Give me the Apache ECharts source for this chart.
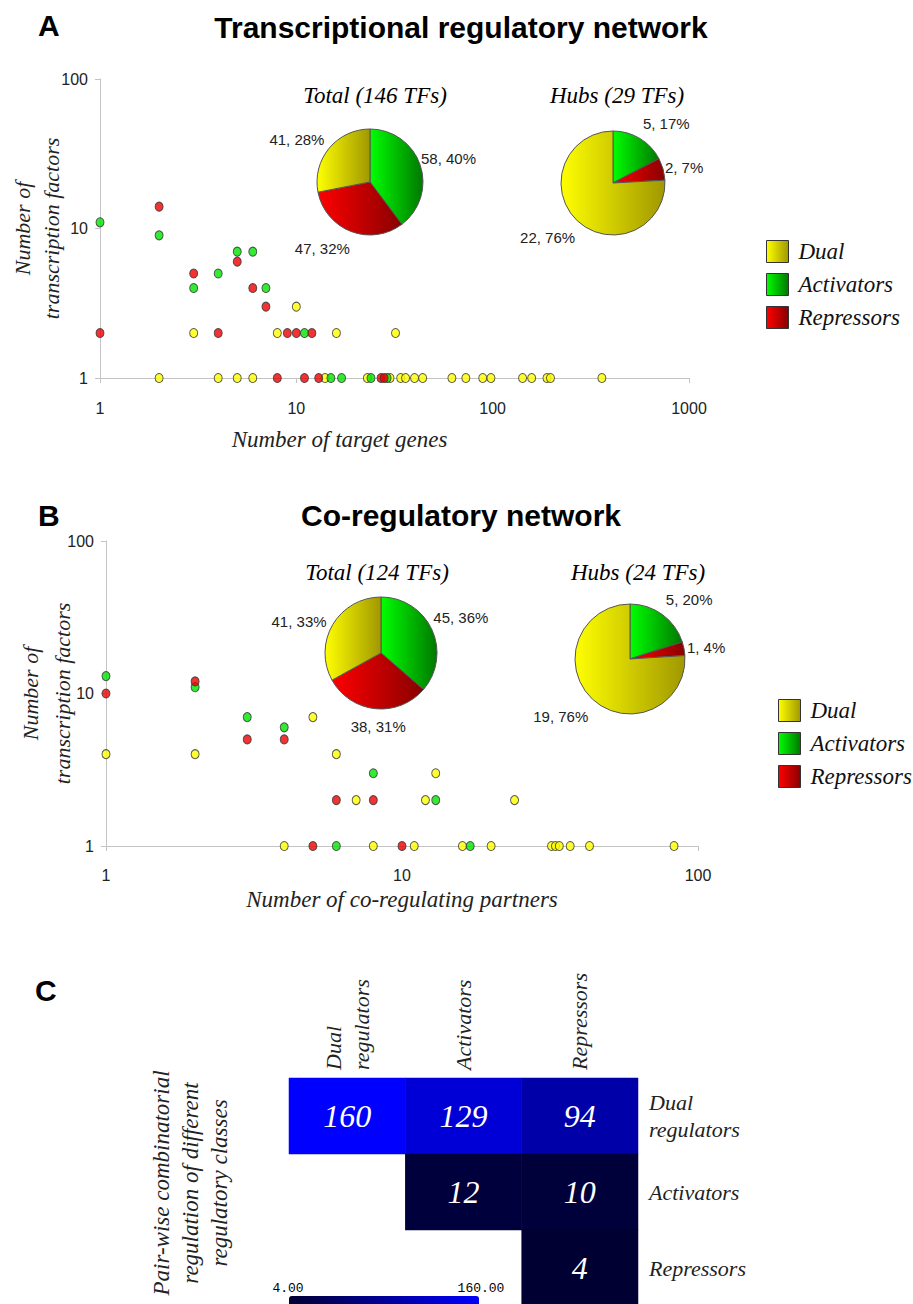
<!DOCTYPE html>
<html>
<head>
<meta charset="utf-8">
<script src="https://cdn.jsdelivr.net/npm/echarts@6/dist/echarts.min.js"></script>
<style>
  html, body { margin: 0; padding: 0; background: #fff; }
  #chart { width: 913px; height: 1304px; }
</style>
</head>
<body>
<div id="chart"></div>
<script>
// regulator classes
const classNames = ["Dual", "Activators", "Repressors"];
const pieOrder = ["Activators", "Repressors", "Dual"];

// A: [number of target genes, number of TFs]
const aDual = [[10, 3], [3, 2], [8, 2], [16, 2], [32, 2], [2, 1], [4, 1], [5, 1], [6, 1], [14, 1], [23, 1], [30, 1], [34, 1], [36, 1], [40, 1], [44, 1], [62, 1], [73, 1], [89, 1], [98, 1], [142, 1], [158, 1], [189, 1], [197, 1], [360, 1]];
const aActivators = [[1, 11], [2, 9], [5, 7], [6, 7], [4, 5], [3, 4], [7, 4], [11, 2], [15, 1], [17, 1], [24, 1], [29, 1]];
const aRepressors = [[2, 14], [5, 6], [3, 5], [6, 4], [7, 3], [1, 2], [4, 2], [9, 2], [10, 2], [12, 2], [8, 1], [11, 1], [13, 1], [27, 1], [28, 1]];

// B: [number of co-regulating partners, number of TFs]
const bDual = [[1, 4], [2, 4], [5, 7], [6, 4], [13, 3], [7, 2], [12, 2], [24, 2], [4, 1], [8, 1], [11, 1], [16, 1], [20, 1], [32, 1], [33, 1], [34, 1], [37, 1], [43, 1], [83, 1]];
const bActivators = [[1, 13], [2, 11], [3, 7], [4, 6], [8, 3], [13, 2], [6, 1], [17, 1]];
const bRepressors = [[1, 10], [2, 12], [3, 5], [4, 5], [6, 2], [8, 2], [5, 1], [10, 1]];

// pie values in pieOrder (Activators, Repressors, Dual)
const aTotal = [58, 47, 41];
const aHubs = [5, 2, 22];
const bTotal = [45, 38, 41];
const bHubs = [5, 1, 19];

// C: pair-wise combinatorial regulation [col, row, count]
const heatClasses = ["Dual\nregulators", "Activators", "Repressors"];
const pairCounts = [[0, 0, 160], [1, 0, 129], [2, 0, 94], [1, 1, 12], [2, 1, 10], [2, 2, 4]];

const SANS = "Liberation Sans, Arial, sans-serif";
const SERIF = "Liberation Serif, Times New Roman, serif";
const MONO = "Liberation Mono, DejaVu Sans Mono, monospace";

const dotColors = { Dual: "#ffff00", Activators: "#00e600", Repressors: "#ee0000" };
const gradStops = {
  Dual: ["#ffff00", "#a09800"],
  Activators: ["#00ff00", "#007800"],
  Repressors: ["#ff0000", "#880000"],
};

const grad = (name) => ({
  type: "linear", x: 0, y: 0, x2: 1, y2: 0,
  colorStops: [
    { offset: 0, color: gradStops[name][0] },
    { offset: 1, color: gradStops[name][1] },
  ],
});

const chart = echarts.init(document.getElementById("chart"), null, { renderer: "svg" });

const logFmt = (v) => String(Math.round(v));

const logAxis = (grid, max, extra) => Object.assign({
  type: "log",
  logBase: 10,
  gridIndex: grid,
  min: 1,
  max: max,
  nameMoveOverlap: false,
  axisLine: { show: true, lineStyle: { color: "#c4c4c4", width: 1 } },
  axisTick: { show: true, length: 5, lineStyle: { color: "#c4c4c4" } },
  minorTick: { show: false },
  splitLine: { show: false },
  axisLabel: { color: "#222", fontFamily: SANS, fontSize: 16, formatter: logFmt },
}, extra);

const dots = (name, data, cls, idx) => ({
  name: name,
  type: "scatter",
  xAxisIndex: idx,
  yAxisIndex: idx,
  data: data,
  symbol: "circle",
  symbolSize: [8, 9],
  itemStyle: { color: dotColors[cls], borderColor: "#333", borderWidth: 1 },
});

// label nudges per slice (pieOrder), to sit where Excel put them
const pie = (values, center, radius, nudge) => ({
  type: "pie",
  center: center,
  radius: radius,
  startAngle: 90,
  clockwise: true,
  avoidLabelOverlap: false,
  percentPrecision: 0,
  label: {
    show: true,
    position: "outside",
    formatter: "{c}, {d}%",
    fontFamily: SANS,
    fontSize: 15,
    color: "#222",
  },
  labelLine: { show: false, length: 6, length2: 0 },
  labelLayout: (params) => ({ dx: nudge[params.dataIndex][0], dy: nudge[params.dataIndex][1] }),
  itemStyle: { borderColor: "#555", borderWidth: 1 },
  data: pieOrder.map((name, i) => ({
    name: name,
    value: values[i],
    itemStyle: { color: grad(name) },
  })),
});

const txt = (text, x, y, font, align) => ({
  type: "text",
  x: x,
  y: y,
  style: {
    text: text,
    font: font,
    fill: "#000",
    align: align || "center",
    verticalAlign: "middle",
  },
});

const series = [
  dots("A dual", aDual, "Dual", 0),
  dots("A activators", aActivators, "Activators", 0),
  dots("A repressors", aRepressors, "Repressors", 0),
  dots("B dual", bDual, "Dual", 1),
  dots("B activators", bActivators, "Activators", 1),
  dots("B repressors", bRepressors, "Repressors", 1),
  pie(aTotal, [370, 182], 53, [[-10, -5], [6, 11], [5, -5]]),
  pie(aHubs, [613, 183], 52, [[-5, -10], [-9, 0], [7, 12]]),
  pie(bTotal, [381, 653], 56, [[-9, -10], [36, 12], [4, 0]]),
  pie(bHubs, [630, 659], 55, [[-5, -10], [-8, 0], [5, 13]]),
  {
    name: "Pairs",
    type: "heatmap",
    xAxisIndex: 2,
    yAxisIndex: 2,
    data: pairCounts,
    label: {
      show: true,
      color: "#fff",
      fontFamily: SERIF,
      fontStyle: "italic",
      fontSize: 32,
    },
  },
];

const legendBase = {
  data: classNames,
  orient: "vertical",
  icon: "rect",
  itemWidth: 22,
  itemHeight: 22,
  itemGap: 10,
  padding: 0,
  selectedMode: false,
  textStyle: { fontFamily: SERIF, fontStyle: "italic", fontSize: 23, lineHeight: 22, color: "#111", padding: [0, 0, 0, 5] },
  itemStyle: { borderColor: "#333", borderWidth: 1 },
};

const options = {
  animation: false,
  backgroundColor: "#fff",
  grid: [
    { left: 100, top: 79, width: 589, height: 299, outerBoundsMode: "none" },
    { left: 106, top: 541, width: 592, height: 305, outerBoundsMode: "none" },
    { left: 289, top: 1078, width: 349, height: 228, outerBoundsMode: "none" },
  ],
  xAxis: [
    logAxis(0, 1000, {
      name: "Number of target genes",
      nameLocation: "middle",
      nameGap: 50,
      nameTextStyle: { fontFamily: SERIF, fontStyle: "italic", fontSize: 23, color: "#222", padding: [0, 110, 0, 0] },
      axisLabel: { color: "#222", fontFamily: SANS, fontSize: 16, margin: 22, formatter: logFmt },
    }),
    logAxis(1, 100, {
      name: "Number of co-regulating partners",
      nameLocation: "middle",
      nameGap: 42,
      nameTextStyle: { fontFamily: SERIF, fontStyle: "italic", fontSize: 23, color: "#222" },
      axisLabel: { color: "#222", fontFamily: SANS, fontSize: 16, margin: 21, formatter: logFmt },
    }),
    {
      type: "category",
      gridIndex: 2,
      position: "top",
      data: heatClasses,
      axisLine: { show: false },
      axisTick: { show: false },
      splitLine: { show: false },
      axisLabel: {
        interval: 0,
        rotate: -90,
        margin: 8,
        fontFamily: SERIF,
        fontStyle: "italic",
        fontSize: 22,
        lineHeight: 28,
        color: "#222",
      },
    },
  ],
  yAxis: [
    logAxis(0, 100, {
      name: "Number of\ntranscription factors",
      nameLocation: "middle",
      nameRotate: 90,
      nameGap: 34,
      nameTextStyle: { fontFamily: SERIF, fontStyle: "italic", fontSize: 22, color: "#222", lineHeight: 29, align: "center" },
      axisLabel: { color: "#222", fontFamily: SANS, fontSize: 16, margin: 12, formatter: logFmt },
    }),
    logAxis(1, 100, {
      name: "Number of\ntranscription factors",
      nameLocation: "middle",
      nameRotate: 90,
      nameGap: 28,
      nameTextStyle: { fontFamily: SERIF, fontStyle: "italic", fontSize: 22, color: "#222", lineHeight: 32, align: "center" },
      axisLabel: { color: "#222", fontFamily: SANS, fontSize: 16, margin: 12, formatter: logFmt },
    }),
    {
      type: "category",
      gridIndex: 2,
      position: "right",
      inverse: true,
      data: heatClasses,
      axisLine: { show: false },
      axisTick: { show: false },
      splitLine: { show: false },
      axisLabel: {
        interval: 0,
        margin: 11,
        align: "left",
        fontFamily: SERIF,
        fontStyle: "italic",
        fontSize: 22,
        lineHeight: 27,
        color: "#222",
      },
    },
    {
      type: "category",
      gridIndex: 2,
      position: "left",
      inverse: true,
      data: heatClasses,
      axisLine: { show: false },
      axisTick: { show: false },
      axisLabel: { show: false },
      splitLine: { show: false },
      name: "Pair-wise combinatorial\nregulation of different\nregulatory classes",
      nameLocation: "middle",
      nameRotate: 90,
      nameGap: 55,
      nameTextStyle: { fontFamily: SERIF, fontStyle: "italic", fontSize: 23, color: "#222", lineHeight: 29, align: "center", padding: [0, 0, 0, 18] },
    },
  ],
  legend: [
    Object.assign({ left: 766, top: 240 }, legendBase),
    Object.assign({ left: 778, top: 699 }, legendBase),
  ],
  visualMap: {
    type: "continuous",
    seriesIndex: 10,
    min: 4,
    max: 160,
    orient: "horizontal",
    left: 289,
    top: 1296,
    padding: 0,
    itemWidth: 20,
    itemHeight: 190,
    calculable: false,
    inRange: { color: ["#000033", "#0000ff"] },
  },
  graphic: [
    txt("A", 38, 25, "bold 30px " + SANS, "left"),
    txt("Transcriptional regulatory network", 461, 27, "bold 30px " + SANS),
    txt("Total (146 TFs)", 375, 95, "italic 23px " + SERIF),
    txt("Hubs (29 TFs)", 617, 95, "italic 23px " + SERIF),
    txt("B", 38, 515, "bold 30px " + SANS, "left"),
    txt("Co-regulatory network", 461, 515, "bold 30px " + SANS),
    txt("Total (124 TFs)", 377, 572, "italic 23px " + SERIF),
    txt("Hubs (24 TFs)", 638, 572, "italic 23px " + SERIF),
    txt("C", 35, 990, "bold 30px " + SANS, "left"),
    txt("4.00", 288, 1288, "13px " + MONO),
    txt("160.00", 481, 1288, "13px " + MONO),
  ],
  series: series,
};

chart.setOption(options);
</script>
</body>
</html>
